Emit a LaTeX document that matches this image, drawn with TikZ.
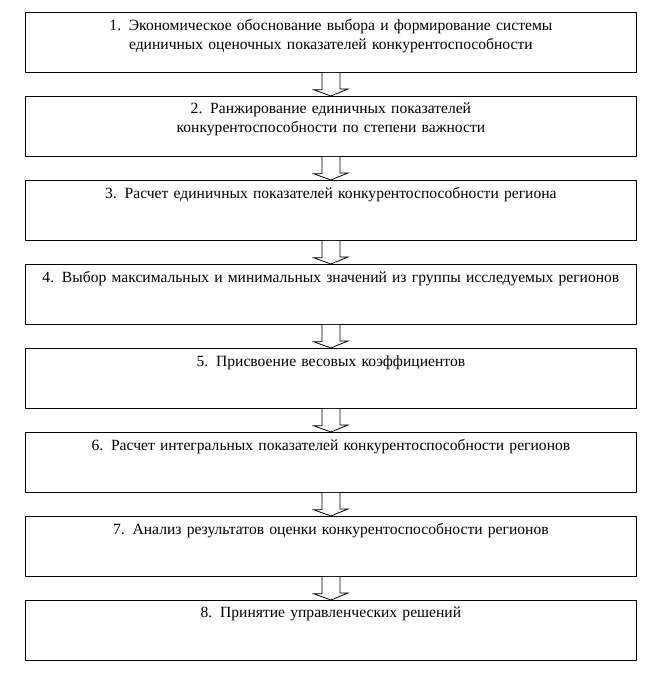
\documentclass[tikz,border=0pt]{standalone}
\usetikzlibrary{calc}
\usepackage{fontspec}
\setmainfont{Liberation Serif}
\begin{document}
\begin{tikzpicture}[x=1pt,y=-1pt,
  stage/.style={draw,line width=0.8pt,minimum width=611pt,minimum height=60pt,anchor=north west,inner sep=0pt},
  lbl/.style={anchor=north,text width=588pt,align=center,font=\fontsize{15.6}{19}\selectfont,inner sep=0pt},
  blockarr/.style={draw,line width=0.8pt,fill=white}]
\useasboundingbox (0,0) rectangle (660,684);
\foreach \i/\t in {1/{1. Экономическое обоснование выбора и формирование системы единичных оценочных показателей конкурентоспособности},
 2/{2. Ранжирование единичных показателей конкурентоспособности по степени важности},
 3/{3. Расчет единичных показателей конкурентоспособности региона},
 4/{4. Выбор максимальных и минимальных значений из группы исследуемых регионов},
 5/{5. Присвоение весовых коэффициентов},
 6/{6. Расчет интегральных показателей конкурентоспособности регионов},
 7/{7. Анализ результатов оценки конкурентоспособности регионов},
 8/{8. Принятие управленческих решений}}{
  \pgfmathsetmacro{\yy}{12+84*(\i-1)}
  \node[stage] (b\i) at (25,\yy) {};
  \node[lbl] (t\i) at ($(b\i.north)+(0,7)$) {\t};
}
\foreach \i [evaluate=\i as \j using int(\i+1)] in {1,...,7}{
  \draw[blockarr] ($(b\i.south)+(-9,0)$) -- ++(0,17) -- ++(-8,0) -- ($(b\j.north)$) -- ++(17,-7) -- ++(-8,0) -- ($(b\i.south)+(9,0)$);
}
\end{tikzpicture}
\end{document}
